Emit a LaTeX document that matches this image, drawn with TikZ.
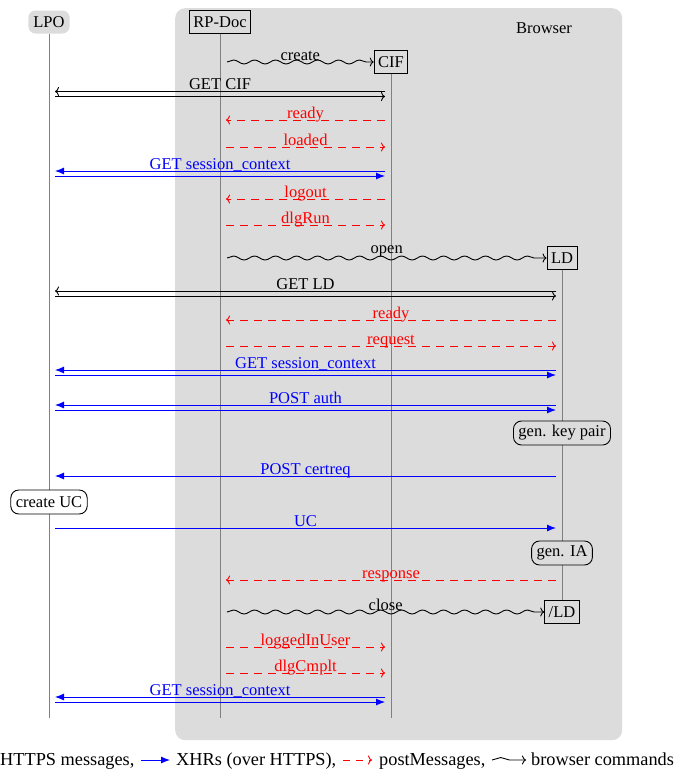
\documentclass[tikz,border=0pt]{standalone}
\usepackage{fontspec}
\setmainfont{Liberation Serif}
\usetikzlibrary{arrows.meta,decorations.pathmorphing,calc}
\definecolor{bggray}{RGB}{220,220,220}
\begin{document}
\begin{tikzpicture}[x=1pt,y=-1pt, font=\fontsize{16.5}{19}\selectfont,
  every node/.style={inner sep=0pt},
  life/.style={draw=gray, line width=0.8pt},
  hbox/.style={draw, line width=0.9pt, inner xsep=4pt, minimum height=23pt},
  act/.style={draw, rounded corners=8pt, line width=0.9pt, inner xsep=5pt, minimum height=24pt},
  msg/.style={line width=0.9pt, shorten <=6pt, shorten >=6pt},
  https/.style={msg, -{To[length=4pt,width=9pt]}},
  xhr/.style={msg, blue, -{Latex[length=9pt,width=7pt]}},
  pm/.style={msg, red, dash pattern=on 8pt off 6pt, -{To[length=4pt,width=9pt]}},
  wave/.style={line width=0.9pt, -{To[length=4pt,width=9pt]}, decorate,
     decoration={snake, amplitude=2pt, segment length=21pt, post length=4pt}},
  lab/.style={midway, anchor=base, yshift=2pt},
  legend/.style={anchor=base west, font=\fontsize{18.3}{21}\selectfont}
]
\useasboundingbox (0,0) rectangle (674,774);
% browser background
\node[fill=bggray, rounded corners=10pt, minimum width=447pt, minimum height=732pt, anchor=north west] (browser) at (175,8) {};
\node (brlabel) at (544,28) {Browser};

% row coordinates
\coordinate (bot) at (0,718);
\coordinate (r1) at (0,62);
\coordinate (r2a) at (0,91.5);  \coordinate (r2b) at (0,96.5);
\coordinate (r3) at (0,120);
\coordinate (r4) at (0,147);
\coordinate (r5a) at (0,171);   \coordinate (r5b) at (0,176);
\coordinate (r6) at (0,199);
\coordinate (r7) at (0,225);
\coordinate (r8) at (0,258);
\coordinate (r9a) at (0,291);   \coordinate (r9b) at (0,296);
\coordinate (r10) at (0,320);
\coordinate (r11) at (0,346);
\coordinate (r12a) at (0,370);  \coordinate (r12b) at (0,375);
\coordinate (r13a) at (0,405);  \coordinate (r13b) at (0,410);
\coordinate (r15) at (0,476);
\coordinate (r17) at (0,528);
\coordinate (r19) at (0,580);
\coordinate (r20) at (0,612);
\coordinate (r21) at (0,647);
\coordinate (r22) at (0,673);
\coordinate (r23a) at (0,697);  \coordinate (r23b) at (0,702);

% header nodes
\node[fill=bggray, rounded corners=7pt, inner xsep=5pt, minimum height=23pt] (LPO) at (49,22) {LPO};
\node[hbox] (RPD) at (220,22) {RP-Doc};
\node[hbox] (CIF) at (391,62) {CIF};
\node[hbox] (LD) at (562,258) {LD};
\node[hbox] (ELD) at (562,612) {/LD};

% wave start points (just right of the RP-Doc lifeline)
\path (RPD |- r1) ++(7,0) coordinate (w1);
\path (RPD |- r8) ++(7,0) coordinate (w8);
\path (RPD |- r20) ++(7,0) coordinate (w20);

% lifelines
\draw[life] (LPO.south) -- (LPO |- bot);
\draw[life] (RPD.south) -- (RPD |- bot);
\draw[life] (CIF.south) -- (CIF |- bot);
\draw[life] (LD.south) -- (ELD.north);

% activity nodes
\node[act, fill=bggray] (GKP) at (562,433) {gen. key pair};
\node[act, fill=white] (CUC) at (49,502) {create UC};
\node[act, fill=bggray] (GIA) at (562,553) {gen. IA};

% messages
\draw[wave] (w1) -- (CIF.west) node[lab] {create};
\draw[https] (CIF |- r2a) -- (LPO |- r2a);
\draw[https] (LPO |- r2b) -- (CIF |- r2b);
\path (LPO |- r2a) -- (CIF |- r2a) node[lab] {GET CIF};
\draw[pm] (CIF |- r3) -- (RPD |- r3) node[lab, text=red] {ready};
\draw[pm] (RPD |- r4) -- (CIF |- r4) node[lab, text=red] {loaded};
\draw[xhr] (CIF |- r5a) -- (LPO |- r5a) node[lab, text=blue] {GET session\_context};
\draw[xhr] (LPO |- r5b) -- (CIF |- r5b);
\draw[pm] (CIF |- r6) -- (RPD |- r6) node[lab, text=red] {logout};
\draw[pm] (RPD |- r7) -- (CIF |- r7) node[lab, text=red] {dlgRun};
\draw[wave] (w8) -- (LD.west) node[lab, yshift=3pt] {open};
\draw[https] (LD |- r9a) -- (LPO |- r9a) node[lab] {GET LD};
\draw[https] (LPO |- r9b) -- (LD |- r9b);
\draw[pm] (LD |- r10) -- (RPD |- r10) node[lab, text=red] {ready};
\draw[pm] (RPD |- r11) -- (LD |- r11) node[lab, text=red] {request};
\draw[xhr] (LD |- r12a) -- (LPO |- r12a) node[lab, text=blue] {GET session\_context};
\draw[xhr] (LPO |- r12b) -- (LD |- r12b);
\draw[xhr] (LD |- r13a) -- (LPO |- r13a) node[lab, text=blue] {POST auth};
\draw[xhr] (LPO |- r13b) -- (LD |- r13b);
\draw[xhr] (LD |- r15) -- (LPO |- r15) node[lab, text=blue] {POST certreq};
\draw[xhr] (LPO |- r17) -- (LD |- r17) node[lab, text=blue] {UC};
\draw[pm] (LD |- r19) -- (RPD |- r19) node[lab, text=red] {response};
\draw[wave] (w20) -- (ELD.west) node[lab] {close};
\draw[pm] (RPD |- r21) -- (CIF |- r21) node[lab, text=red] {loggedInUser};
\draw[pm] (RPD |- r22) -- (CIF |- r22) node[lab, text=red] {dlgCmplt};
\draw[xhr] (CIF |- r23a) -- (LPO |- r23a) node[lab, text=blue] {GET session\_context};
\draw[xhr] (LPO |- r23b) -- (CIF |- r23b);

% legend
\node[legend] (L1) at (0,765) {HTTPS messages,};
\coordinate (a1s) at (141,760); \coordinate (a1e) at (170,760);
\draw[line width=0.9pt, blue, -{Latex[length=9pt,width=7pt]}] (a1s) -- (a1e);
\node[legend] (L2) at (176,765) {XHRs (over HTTPS),};
\coordinate (a2s) at (343,760); \coordinate (a2e) at (372,760);
\draw[line width=0.9pt, red, dash pattern=on 7pt off 6pt, -{To[length=4pt,width=9pt]}] (a2s) -- (a2e);
\node[legend] (L3) at (379,765) {postMessages,};
\coordinate (a3s) at (492,760); \coordinate (a3e) at (526,760);
\draw[line width=0.9pt, -{To[length=4pt,width=9pt]}, decorate, decoration={snake, amplitude=2.5pt, segment length=28pt, post length=4pt}] (a3s) -- (a3e);
\node[legend] (L4) at (531,765) {browser commands};
\end{tikzpicture}
\end{document}
